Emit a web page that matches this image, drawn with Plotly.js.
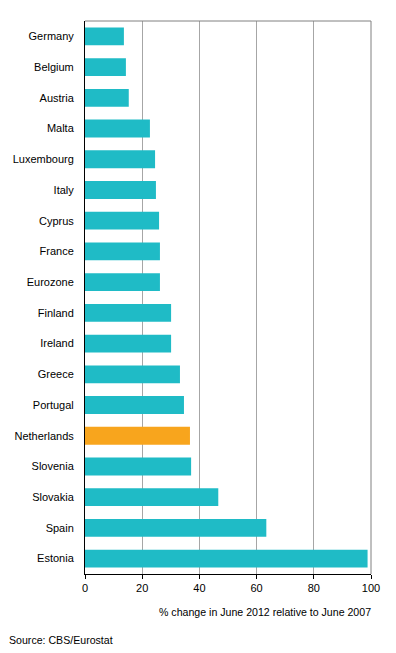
<!DOCTYPE html>
<html>
<head>
<meta charset="utf-8">
<script src="https://cdn.plot.ly/plotly-3.0.1.min.js"></script>
<style>html,body{margin:0;padding:0;background:#fff;}#chart{width:396px;height:653px;}</style>
</head>
<body>
<div id="chart"></div>
<script>
var countries = ["Germany","Belgium","Austria","Malta","Luxembourg","Italy","Cyprus","France","Eurozone","Finland","Ireland","Greece","Portugal","Netherlands","Slovenia","Slovakia","Spain","Estonia"];
var changes = [13.6,14.3,15.3,22.7,24.5,24.8,25.9,26.2,26.2,30.1,30.1,33.2,34.6,36.7,37.1,46.6,63.4,98.8];
var highlight = "Netherlands";
var xTicks = [0,20,40,60,80,100];
var xTitle = "% change in June 2012 relative to June 2007";
var sourceText = "Source: CBS/Eurostat";

var colors = countries.map(function(c){ return c === highlight ? "#F8A51D" : "#1FBBC6"; });
var font = "Liberation Sans, Arial, sans-serif";

var trace = {
  type: "bar",
  orientation: "h",
  y: countries,
  x: changes,
  marker: {color: colors, line: {width: 0}},
  hoverinfo: "none"
};

var layout = {
  width: 396, height: 653,
  margin: {l: 85, r: 25, t: 21, b: 79},
  paper_bgcolor: "#fff", plot_bgcolor: "#fff",
  bargap: 0.42,
  showlegend: false,
  font: {family: font, size: 11, color: "#000"},
  xaxis: {
    range: [0, 100],
    tickvals: xTicks,
    ticktext: xTicks.map(String),
    showgrid: true, gridcolor: "#A6A6A6", gridwidth: 1,
    zeroline: false,
    showline: true, linecolor: "#000", linewidth: 1,
    ticks: "outside", ticklen: 4, tickcolor: "#000",
    tickfont: {family: font, size: 11, color: "#000"},
    fixedrange: true
  },
  yaxis: {
    type: "category",
    categoryorder: "array", categoryarray: countries,
    autorange: "reversed",
    showgrid: false, zeroline: false,
    showline: true, linecolor: "#000", linewidth: 1,
    ticks: "", ticklabelstandoff: 8,
    tickfont: {family: font, size: 11, color: "#000"},
    fixedrange: true
  },
  shapes: [
    {type: "line", xref: "paper", yref: "paper", x0: 0, x1: 1, y0: 1, y1: 1, line: {color: "#808080", width: 1}},
    {type: "line", xref: "paper", yref: "paper", x0: 1, x1: 1, y0: 0, y1: 1, line: {color: "#808080", width: 1}}
  ],
  annotations: [
    {text: xTitle, xref: "paper", yref: "paper", x: 1, y: 0, xanchor: "right", yanchor: "middle", yshift: -38, xshift: 2, showarrow: false, font: {family: font, size: 10.6, color: "#000"}},
    {text: sourceText, xref: "paper", yref: "paper", x: 0, y: 0, xanchor: "left", yanchor: "middle", yshift: -66, xshift: -78, showarrow: false, font: {family: font, size: 10.6, color: "#000"}}
  ]
};

Plotly.newPlot("chart", [trace], layout, {displayModeBar: false, staticPlot: true});
</script>
</body>
</html>
